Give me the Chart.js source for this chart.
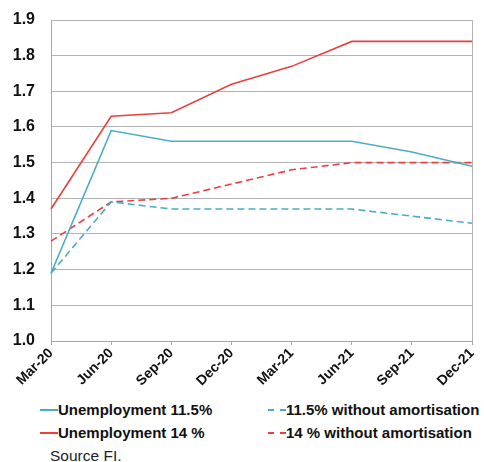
<!DOCTYPE html>
<html><head><meta charset="utf-8">
<script src="https://cdn.jsdelivr.net/npm/chart.js@4"></script>
<style>
html,body{margin:0;padding:0;background:#fff;}
body{width:484px;height:462px;overflow:hidden;font-family:"Liberation Sans",Arial,sans-serif;}
#wrap{position:relative;width:484px;height:395px;}
.leg{position:absolute;font-weight:bold;font-size:15px;color:#111;white-space:nowrap;}
.sw{display:inline-block;width:18px;height:0;vertical-align:middle;margin-right:0px;position:relative;top:-1px;}
#src{position:absolute;left:50px;top:447px;font-size:15.5px;color:#222;}
</style></head>
<body>
<div id="wrap"><canvas id="c" width="484" height="395"></canvas></div>
<div class="leg" style="left:40px;top:401px;"><span class="sw" style="border-top:2px solid #4bacc6"></span>Unemployment 11.5%</div>
<div class="leg" style="left:268px;top:401px;"><span class="sw" style="border-top:2px dashed #4bacc6"></span>11.5% without amortisation</div>
<div class="leg" style="left:40px;top:424px;"><span class="sw" style="border-top:2px solid #e8403f"></span>Unemployment 14 %</div>
<div class="leg" style="left:268px;top:424px;"><span class="sw" style="border-top:2px dashed #e8403f"></span>14 % without amortisation</div>
<div id="src">Source FI.</div>
<script>
const categories = ["Mar-20","Jun-20","Sep-20","Dec-20","Mar-21","Jun-21","Sep-21","Dec-21"];
const unemp115 = [1.19,1.59,1.56,1.56,1.56,1.56,1.53,1.49];
const unemp115NoAm = [1.19,1.39,1.37,1.37,1.37,1.37,1.35,1.33];
const unemp14 = [1.37,1.63,1.64,1.72,1.77,1.84,1.84,1.84];
const unemp14NoAm = [1.28,1.39,1.40,1.44,1.48,1.50,1.50,1.50];
const yMin = 1.0, yMax = 1.9, yStep = 0.1;

const teal = "#4bacc6", red = "#e8403f";
const rightBorder = {
  id:"rightBorder",
  afterDraw(chart){
    const a = chart.chartArea, ctx = chart.ctx;
    ctx.save(); ctx.strokeStyle="#b3b3b3"; ctx.lineWidth=1;
    ctx.beginPath(); ctx.moveTo(Math.round(a.right)+0.5,a.top); ctx.lineTo(Math.round(a.right)+0.5,a.bottom); ctx.stroke();
    ctx.restore();
  }
};
new Chart(document.getElementById("c"),{
  type:"line",
  data:{labels:categories,datasets:[
    {label:"Unemployment 11.5%",data:unemp115,borderColor:teal,borderWidth:1.6,pointRadius:0,tension:0},
    {label:"11.5% without amortisation",data:unemp115NoAm,borderColor:teal,borderWidth:1.6,borderDash:[7,4],pointRadius:0,tension:0},
    {label:"Unemployment 14 %",data:unemp14,borderColor:red,borderWidth:1.6,pointRadius:0,tension:0},
    {label:"14 % without amortisation",data:unemp14NoAm,borderColor:red,borderWidth:1.6,borderDash:[7,4],pointRadius:0,tension:0}
  ]},
  options:{
    responsive:false,animation:false,
    layout:{padding:{left:0,right:11,top:20,bottom:0}},
    plugins:{legend:{display:false},tooltip:{enabled:false}},
    scales:{
      x:{
        offset:false,
        grid:{drawOnChartArea:false,drawTicks:true,tickLength:4,color:"#a6a6a6"},
        border:{color:"#a6a6a6"},
        ticks:{minRotation:45,maxRotation:45,color:"#111",padding:0,font:{family:"Liberation Sans",weight:"bold",size:14}},
        afterFit(s){s.height=54;}
      },
      y:{
        min:yMin,max:yMax,
        grid:{color:"#b3b3b3",drawTicks:true,tickLength:16,tickColor:"rgba(0,0,0,0)"},
        border:{color:"#a6a6a6"},
        ticks:{stepSize:yStep,padding:0,color:"#111",font:{family:"Liberation Sans",weight:"bold",size:16},callback:v=>Number(v).toFixed(1)},
        afterFit(s){s.width=51;}
      }
    }
  },
  plugins:[rightBorder]
});
</script>
</body></html>
